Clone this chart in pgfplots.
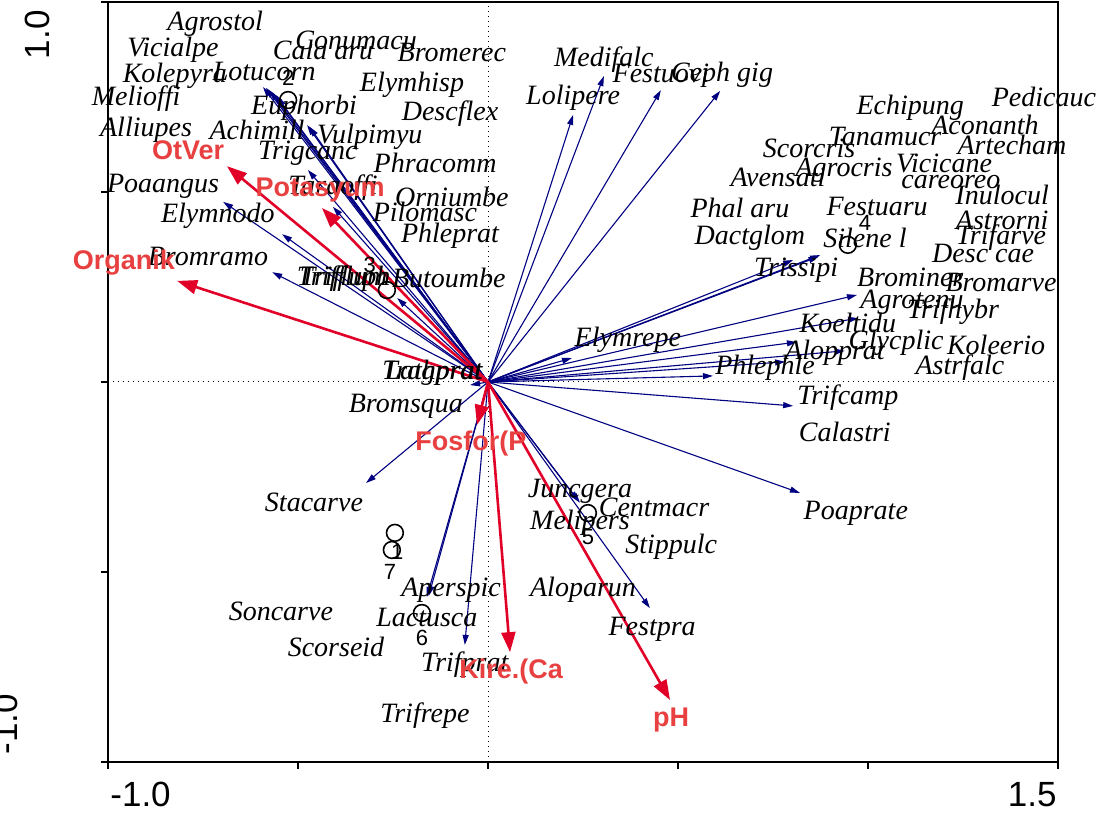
\documentclass[border=0pt]{standalone}
\usepackage{pgfplots}
\pgfplotsset{compat=1.18}
\usepackage{pgfplotstable}
\usepackage{fontspec}
\setmainfont{Liberation Serif}
\setsansfont{Liberation Sans}
\usetikzlibrary{arrows.meta}

\definecolor{spnavy}{RGB}{0,0,128}
\definecolor{envarrow}{RGB}{225,0,40}
\definecolor{envtext}{RGB}{232,64,64}

\newcommand\spfont{\fontsize{14}{16}\selectfont\itshape}
\newcommand\envfont{\sffamily\bfseries\fontsize{13.5}{16}\selectfont}
\newcommand\ticfont{\sffamily\fontsize{17.5}{20}\selectfont}
\newcommand\numfont{\sffamily\fontsize{11}{13}\selectfont}

% species arrows (tips), all from the origin
\pgfplotstableread[col sep=comma,row sep=\\]{
x,y,u,v\\
0,0,-0.592,0.776\\
0,0,-0.584,0.774\\
0,0,-0.574,0.766\\
0,0,-0.563,0.758\\
0,0,-0.555,0.750\\
0,0,-0.476,0.676\\
0,0,-0.470,0.672\\
0,0,-0.474,0.558\\
0,0,-0.408,0.461\\
0,0,-0.697,0.474\\
0,0,-0.542,0.389\\
0,0,-0.568,0.289\\
0,0,-0.239,0.221\\
0,0,-0.047,-0.008\\
0,0,-0.321,-0.266\\
0,0,-0.161,-0.566\\
0,0,-0.156,-0.563\\
0,0,-0.061,-0.692\\
0,0,0.242,-0.318\\
0,0,0.238,-0.314\\
0,0,0.426,-0.595\\
0,0,0.821,-0.292\\
0,0,0.803,-0.063\\
0,0,0.592,0.016\\
0,0,0.782,0.053\\
0,0,0.939,0.082\\
0,0,0.813,0.105\\
0,0,0.974,0.168\\
0,0,0.971,0.229\\
0,0,0.221,0.063\\
0,0,0.803,0.321\\
0,0,0.874,0.334\\
0,0,0.870,0.330\\
0,0,0.224,0.703\\
0,0,0.305,0.805\\
0,0,0.455,0.768\\
0,0,0.611,0.766\\
}\sparrows

% environmental variables
\pgfplotstableread[col sep=comma,row sep=\\]{
x,y,u,v\\
0,0,-0.687,0.568\\
0,0,-0.437,0.458\\
0,0,-0.818,0.266\\
0,0,-0.029,-0.113\\
0,0,0.058,-0.711\\
0,0,0.479,-0.837\\
}\envarrows

\pgfplotstableread[col sep=comma,row sep=\\]{
x,y,label\\
-0.789,0.611,OtVer\\
-0.442,0.505,Potasyum\\
-0.958,0.313,Organik\\
-0.045,-0.161,Fosfor(P\\
0.061,-0.763,Kire.(Ca\\
0.482,-0.889,pH\\
}\envlabels

\pgfplotstableread[col sep=comma,row sep=\\]{
x,y,label\\
-0.718,0.942,Agrostol\\
-0.829,0.874,Vicialpe\\
-0.347,0.900,Conumacu\\
-0.434,0.874,Cala aru\\
-0.095,0.868,Bromerec\\
-0.824,0.805,Kolepyra\\
-0.589,0.818,Lotucorn\\
-0.200,0.782,Elymhisp\\
-0.926,0.745,Melioffi\\
-0.484,0.721,Euphorbi\\
-0.100,0.705,Descflex\\
-0.900,0.663,Alliupes\\
-0.608,0.663,Achimill\\
-0.311,0.644,Vulpimyu\\
-0.474,0.603,Trigcanc\\
-0.139,0.576,Phracomm\\
-0.855,0.516,Poaangus\\
-0.408,0.511,Taraoffi\\
-0.095,0.487,Orniumbe\\
-0.711,0.437,Elymnodo\\
-0.166,0.447,Pilomasc\\
-0.100,0.384,Phleprat\\
-0.737,0.329,Bromramo\\
-0.384,0.273,Trifflum\\
-0.376,0.273,Trifluph\\
-0.103,0.274,Butoumbe\\
-0.147,0.024,Tragprat\\
-0.143,0.024,Lathprat\\
-0.216,-0.063,Bromsqua\\
0.305,0.847,Medifalc\\
0.455,0.813,Festuovi\\
0.616,0.808,Ceph gig\\
0.224,0.747,Lolipere\\
1.111,0.721,Echipung\\
1.463,0.750,Pedicauc\\
1.045,0.645,Tanamucr\\
1.308,0.676,Aconanth\\
1.379,0.624,Artecham\\
0.845,0.616,Scorcris\\
0.937,0.558,Agrocris\\
0.763,0.539,Avensati\\
1.200,0.576,Vicicane\\
1.218,0.526,careoreo\\
1.353,0.492,Inulocul\\
0.663,0.458,Phal aru\\
1.024,0.463,Festuaru\\
1.353,0.426,Astrorni\\
0.689,0.379,Dactglom\\
0.992,0.379,Silene l\\
1.350,0.379,Trifarve\\
1.303,0.339,Desc cae\\
0.811,0.295,Trissipi\\
1.111,0.274,Brominer\\
1.350,0.263,Bromarve\\
1.116,0.211,Agrotenu\\
1.224,0.184,Trifhybr\\
0.947,0.155,Koeltidu\\
1.074,0.103,Glycplic\\
1.337,0.097,Koleerio\\
0.913,0.076,Alopprat\\
0.729,0.037,Phlephle\\
1.242,0.037,Astrfalc\\
0.368,0.111,Elymrepe\\
0.947,-0.042,Trifcamp\\
0.939,-0.132,Calastri\\
0.968,-0.345,Poaprate\\
-0.458,-0.316,Stacarve\\
0.242,-0.289,Juncgera\\
0.437,-0.329,Centmacr\\
0.242,-0.371,Melipers\\
0.482,-0.434,Stippulc\\
-0.097,-0.547,Aperspic\\
0.250,-0.547,Aloparun\\
-0.545,-0.603,Soncarve\\
-0.161,-0.621,Lactusca\\
0.432,-0.650,Festpra\\
-0.400,-0.697,Scorseid\\
-0.061,-0.745,Trifprat\\
-0.166,-0.879,Trifrepe\\
}\splabels

% samples
\pgfplotstableread[col sep=comma,row sep=\\]{
x,y\\
-0.245,-0.397\\
-0.253,-0.442\\
-0.526,0.742\\
-0.266,0.242\\
0.947,0.361\\
0.263,-0.345\\
-0.174,-0.608\\
}\samples

\pgfplotstableread[col sep=comma,row sep=\\]{
x,y,label\\
-0.239,-0.447,1\\
-0.258,-0.500,7\\
-0.526,0.800,2\\
-0.311,0.308,3\\
0.992,0.418,4\\
0.263,-0.408,5\\
-0.174,-0.674,6\\
}\samplelabels

\begin{document}
\begin{tikzpicture}
\begin{axis}[
    x=190pt, y=190pt,
    xmin=-1, xmax=1.5, ymin=-1, ymax=1,
    clip=false,
    axis line style={line width=1.3pt},
    xtick={-1,-0.5,0,0.5,1,1.5},
    ytick={-1,-0.5,0,0.5,1},
    xticklabels={}, yticklabels={},
    tick align=outside,
    xtick pos=bottom, ytick pos=left,
    major tick length=3.5pt,
    tick style={line width=1pt, black},
]
\coordinate (sw) at (rel axis cs:0,0);
\coordinate (se) at (rel axis cs:1,0);
\coordinate (nw) at (rel axis cs:0,1);
\coordinate (ne) at (rel axis cs:1,1);

\draw[dotted, line width=0.5pt] (axis cs:0,-1) -- (axis cs:0,1);
\draw[dotted, line width=0.5pt] (axis cs:-1,0) -- (axis cs:1.5,0);

% species arrows
\addplot[spnavy, line width=0.55pt, no markers,
    -{Triangle[length=5pt,width=3pt]},
    quiver={u=\thisrow{u}, v=\thisrow{v}}]
    table[x=x, y=y] {\sparrows};

% species names
\addplot[draw=none, mark=none, nodes near coords, point meta=explicit symbolic,
    every node near coord/.style={anchor=center, inner sep=0pt, font=\spfont, text=black}]
    table[x=x, y=y, meta=label] {\splabels};

% samples
\addplot[only marks, mark=o, mark size=4.2pt, black,
    mark options={line width=0.8pt}]
    table[x=x, y=y] {\samples};
\addplot[draw=none, mark=none, nodes near coords, point meta=explicit symbolic,
    every node near coord/.style={anchor=center, inner sep=0pt, font=\numfont, text=black}]
    table[x=x, y=y, meta=label] {\samplelabels};

% environmental arrows
\addplot[envarrow, line width=1.3pt, no markers,
    -{Triangle[length=10pt,width=7pt]},
    quiver={u=\thisrow{u}, v=\thisrow{v}}]
    table[x=x, y=y] {\envarrows};
\addplot[draw=none, mark=none, nodes near coords, point meta=explicit symbolic,
    every node near coord/.style={anchor=center, inner sep=0pt, font=\envfont, text=envtext}]
    table[x=x, y=y, meta=label] {\envlabels};
\end{axis}

% tick labels
\node[anchor=north west, inner sep=0pt, font=\ticfont] at ([shift={(1pt,-10pt)}]sw) {-1.0};
\node[anchor=north east, inner sep=0pt, font=\ticfont] at ([shift={(-0.5pt,-10pt)}]se) {1.5};
\node[rotate=90, anchor=south east, inner sep=0pt, font=\ticfont] at ([shift={(-29pt,-4pt)}]nw) {1.0};
\node[rotate=90, anchor=south west, inner sep=0pt, font=\ticfont] at ([shift={(-45pt,3.5pt)}]sw) {-1.0};

\pgfresetboundingbox
\path ([shift={(-54pt,-27.5pt)}]sw) rectangle ([shift={(20.5pt,1pt)}]ne);
\end{tikzpicture}
\end{document}
